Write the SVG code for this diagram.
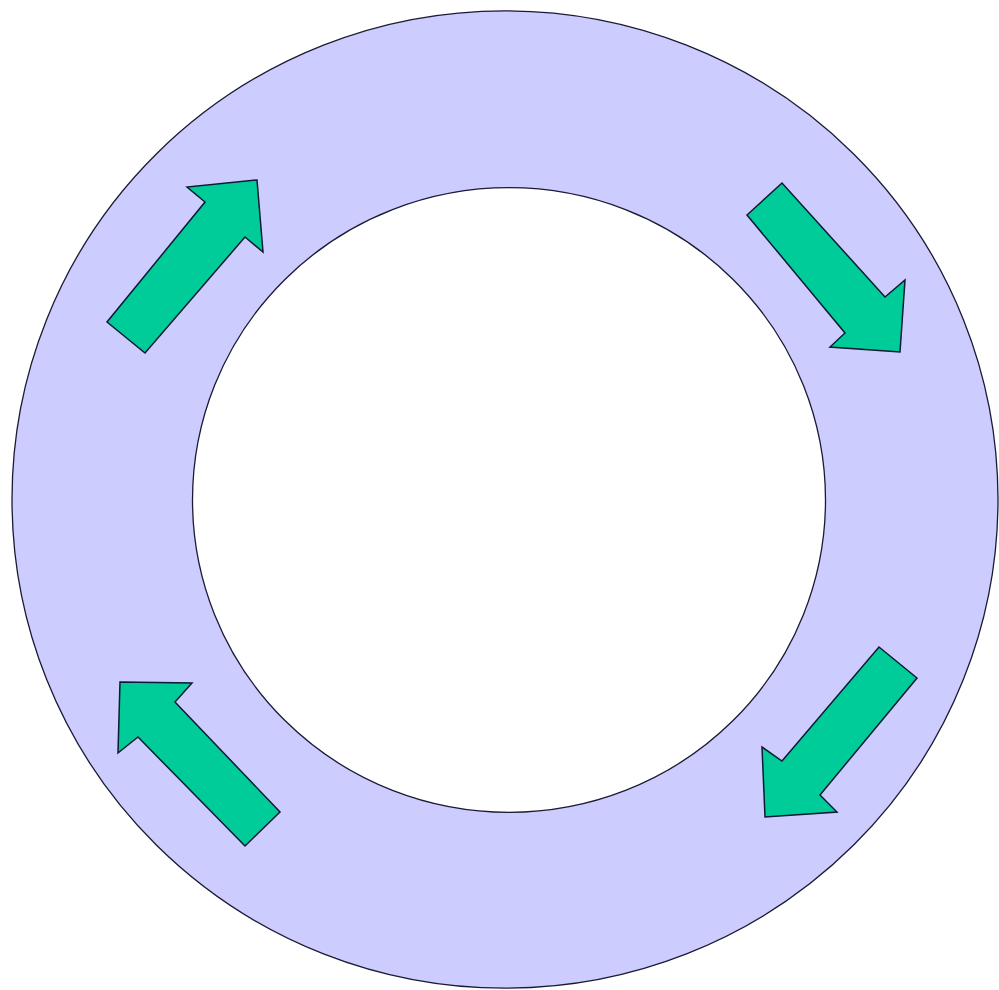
<svg xmlns="http://www.w3.org/2000/svg" width="999" height="990" viewBox="0 0 999 990">
<style>
.ring{fill:#CCCCFF;stroke:#1a1a33;stroke-width:1.3;fill-rule:evenodd}
.arrow{fill:#00CC99;stroke:#0d1a33;stroke-width:1.5;stroke-linejoin:miter}
</style>
<rect width="999" height="990" fill="#FFFFFF"/>
<g id="ring">
<path class="ring" d="M12,499.5 A493,488.5 0 1 0 998,499.5 A493,488.5 0 1 0 12,499.5 Z M192.5,500 A316.5,312.3 0 1 1 825.5,500 A316.5,312.3 0 1 1 192.5,500 Z"/>
</g>
<g id="arrow-top-left"><polygon class="arrow" points="107,322 145,353 245,237 263,252 257,180 187,187 205,202"/></g>
<g id="arrow-top-right"><polygon class="arrow" points="782,183 747,215 845,333 830,347 900,352 905,280 885,297"/></g>
<g id="arrow-bottom-right"><polygon class="arrow" points="879,647 917,678 820,795 837,812 765,817 762,747 782,761"/></g>
<g id="arrow-bottom-left"><polygon class="arrow" points="120,682 192,683 175,702 280,812 245,846 138,737 118,753"/></g>
<g id="connectors"></g>
</svg>
